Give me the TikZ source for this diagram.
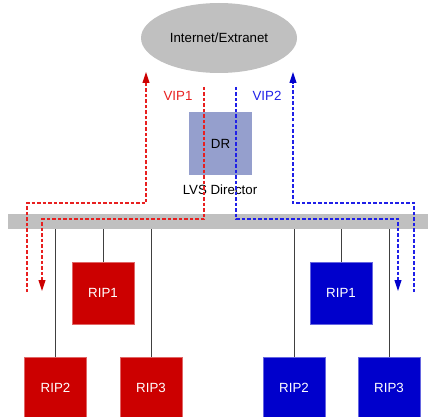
\documentclass[tikz,border=0pt]{standalone}
\usepackage{fontspec}
\setmainfont{Liberation Sans}
\usetikzlibrary{shapes.geometric,arrows.meta}
\definecolor{rbox}{HTML}{CC0000}
\definecolor{bbox}{HTML}{0000CC}
\definecolor{rdash}{HTML}{E82020}
\definecolor{bdash}{HTML}{2020E8}
\definecolor{drbox}{HTML}{959FCD}
\definecolor{cloud}{HTML}{C0C0C0}
\tikzset{
  rip/.style={minimum width=62pt,minimum height=62pt,inner sep=0pt,text=white,font=\fontsize{13.3}{15}\selectfont},
  ripr/.style={rip,fill=rbox,draw=rbox!60!white,line width=0.4pt},
  ripb/.style={rip,fill=bbox,draw=bbox!60!white,line width=0.4pt},
  link/.style={draw=black!75,line width=1pt},
  rpath/.style={color=rdash,line width=1.1pt,dash pattern=on 3.5pt off 2pt},
  bpath/.style={color=bdash,line width=1.1pt,dash pattern=on 3.5pt off 2pt},
  rtip/.style={-{Triangle[length=11pt,width=7pt,fill=rbox,color=rbox]}},
  btip/.style={-{Triangle[length=11pt,width=7pt,fill=bbox,color=bbox]}},
  lbl/.style={font=\fontsize{13.3}{15}\selectfont}
}
\begin{document}
\begin{tikzpicture}[x=1pt,y=-1pt]
\useasboundingbox (0,0) rectangle (428,417);
% internet
\node[ellipse,fill=cloud,minimum width=156pt,minimum height=70pt,inner sep=0pt,lbl] (net) at (219,38) {Internet/Extranet};
% bar
\node[fill=cloud,minimum width=420pt,minimum height=15pt,inner sep=0pt,anchor=north west] (bar) at (8,214) {};
% DR
\node[fill=drbox,minimum width=63pt,minimum height=63pt,inner sep=0pt,lbl] (dr) at (220.5,143.5) {DR};
\node[lbl] (lvs) at (220,190) {LVS Director};
\node[lbl,text=rdash] (vip1) at (178,96) {VIP1};
\node[lbl,text=bdash] (vip2) at (267,96) {VIP2};
% red RIPs
\node[ripr] (r1) at (103,293) {RIP1};
\node[ripr] (r2) at (55.5,388) {RIP2};
\node[ripr] (r3) at (151,388) {RIP3};
% blue RIPs
\node[ripb] (b1) at (341,293) {RIP1};
\node[ripb] (b2) at (294,388) {RIP2};
\node[ripb] (b3) at (389,388) {RIP3};
% links
\foreach \n in {r1,r2,r3,b1,b2,b3}
  \draw[link] (\n.north |- bar.south) -- (\n.north);
% red dashed paths
\coordinate (ra) at (27,292);
\coordinate (rb) at (146,72);
\draw[rpath,rtip] (ra) -- (27,203) -- (146,203) -- (rb);
\coordinate (rc) at (204,87);
\coordinate (rd) at (42,291);
\draw[rpath,rtip] (rc) -- (204,219) -- (42,219) -- (rd);
% blue dashed paths
\coordinate (bc) at (236,87);
\coordinate (bd) at (398,291);
\draw[bpath,btip] (bc) -- (236,219) -- (398,219) -- (bd);
\coordinate (ba) at (414,292);
\coordinate (bb) at (293,72);
\draw[bpath,btip] (ba) -- (414,203) -- (293,203) -- (bb);
\end{tikzpicture}
\end{document}
